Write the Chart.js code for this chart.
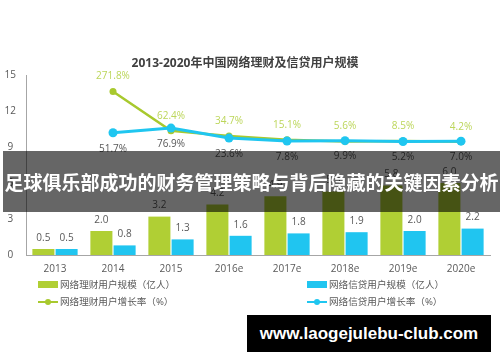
<!DOCTYPE html>
<html>
<head>
<meta charset="utf-8">
<script src="https://cdn.jsdelivr.net/npm/chart.js@4/dist/chart.umd.min.js"></script>
<style>
  html, body { margin:0; padding:0; background:#fff; }
  #wrap { position:relative; width:500px; height:362px; overflow:hidden; }
  #c { position:absolute; left:0; top:0; }
  .lg { position:absolute; font-family:'Open Sans','Noto Sans CJK SC',sans-serif; font-size:9.6px; color:#595959; line-height:12px; white-space:nowrap; }
  .sw { position:absolute; }
  #banner { position:absolute; left:3px; top:151px; width:497px; height:61px; background:rgba(0,0,0,0.6);
            color:#fff; font-family:'Noto Sans CJK SC',sans-serif; font-weight:bold; font-size:19px;
            line-height:61px; text-align:center; white-space:nowrap; letter-spacing:0px; }
  #mark { position:absolute; left:247px; top:315px; width:244px; height:37px; background:#000; color:#fff;
          font-family:'Liberation Sans',Arial,sans-serif; font-weight:bold; font-size:17px; line-height:37px; text-align:center; }
</style>
</head>
<body>
<div id="wrap">
  <canvas id="c" width="500" height="362"></canvas>
  <div id="legend"></div>
  <div id="banner">足球俱乐部成功的财务管理策略与背后隐藏的关键因素分析</div>
  <div id="mark">www.laogejulebu-club.com</div>
</div>
<script>
const titleText = '2013-2020年中国网络理财及信贷用户规模';
const categories = ['2013', '2014', '2015', '2016e', '2017e', '2018e', '2019e', '2020e'];
const wealthUsers = [0.5, 2.0, 3.2, 4.2, 4.9, 5.3, 5.8, 6.0];
const creditUsers = [0.5, 0.8, 1.3, 1.6, 1.8, 1.9, 2.0, 2.2];
const wealthGrowth = [null, 271.8, 62.4, 34.7, 15.1, 5.6, 8.5, 4.2];
const creditGrowth = [null, 51.7, 76.9, 23.6, 7.8, 9.9, 5.2, 7.0];
const seriesNames = ['网络理财用户规模（亿人）', '网络信贷用户规模（亿人）', '网络理财用户增长率（%）', '网络信贷用户增长率（%）'];
const yTickMin = 0, yTickMax = 15, yTickStep = 3;

const GREEN_BAR = '#b0cf34', BLUE_BAR = '#20c5f0';
const GREEN_LINE = '#a8c92e', BLUE_LINE = '#1fc6f0';
const FONT = "'Open Sans','Noto Sans CJK SC',sans-serif";

Chart.defaults.font.family = FONT;
Chart.defaults.color = '#595959';

const labelPlugin = {
  id: 'valueLabels',
  afterDatasetsDraw(chart) {
    const ctx = chart.ctx;
    ctx.save();
    ctx.textAlign = 'center';
    ctx.textBaseline = 'middle';
    ctx.font = '10px ' + FONT;
    chart.data.datasets.forEach((ds, di) => {
      const meta = chart.getDatasetMeta(di);
      meta.data.forEach((el, i) => {
        const v = ds.data[i];
        if (v === null || v === undefined) return;
        if (ds.type === 'line') {
          if (ds.labelPos === 'above') {
            ctx.fillStyle = '#bcd65a';
            ctx.fillText(v.toFixed(1) + '%', el.x, el.y - 15);
          } else {
            ctx.fillStyle = '#595959';
            ctx.fillText(v.toFixed(1) + '%', el.x, el.y + 16);
          }
        } else {
          ctx.fillStyle = '#595959';
          ctx.fillText(v.toFixed(1), el.x, el.y - 11);
        }
      });
    });
    ctx.restore();
  }
};

const chart = new Chart(document.getElementById('c'), {
  data: {
    labels: categories,
    datasets: [
      { type: 'bar', label: seriesNames[0], data: wealthUsers, backgroundColor: GREEN_BAR, yAxisID: 'y', order: 2,
        categoryPercentage: 0.8, barPercentage: 0.95 },
      { type: 'bar', label: seriesNames[1], data: creditUsers, backgroundColor: BLUE_BAR, yAxisID: 'y', order: 2,
        categoryPercentage: 0.8, barPercentage: 0.95 },
      { type: 'line', label: seriesNames[2], data: wealthGrowth, borderColor: GREEN_LINE, backgroundColor: GREEN_LINE,
        borderWidth: 2.5, pointRadius: 3.5, pointBackgroundColor: GREEN_LINE, pointBorderWidth: 0, yAxisID: 'y2', order: 1, labelPos: 'above', tension: 0 },
      { type: 'line', label: seriesNames[3], data: creditGrowth, borderColor: BLUE_LINE, backgroundColor: BLUE_LINE,
        borderWidth: 3, pointRadius: 4.5, pointBackgroundColor: BLUE_LINE, pointBorderWidth: 0, yAxisID: 'y2', order: 0, labelPos: 'below', tension: 0 }
    ]
  },
  options: {
    responsive: false,
    animation: false,
    layout: { padding: { top: 56, left: 0, right: 10, bottom: 80 } },
    plugins: {
      legend: { display: false },
      tooltip: { enabled: false },
      title: { display: true, text: titleText, color: '#404040', font: { size: 12, weight: 'bold', family: FONT },
               padding: { top: 0, bottom: 4.6 } }
    },
    scales: {
      x: {
        grid: { display: false, drawTicks: false },
        border: { display: true, color: '#a6a6a6', width: 1 },
        ticks: { color: '#595959', font: { size: 10 }, padding: 8, maxRotation: 0, autoSkip: false },
        afterFit(s) { s.height = 27; }
      },
      y: {
        position: 'left', min: yTickMin, max: yTickMax,
        grid: { display: false, drawTicks: false },
        border: { display: true, color: '#a6a6a6', width: 1 },
        ticks: { stepSize: yTickStep, color: '#595959', font: { size: 10 }, padding: 10, crossAlign: 'center' },
        afterFit(s) { s.width = 26; }
      },
      y2: { display: false, min: -600, max: 360 }
    }
  },
  plugins: [labelPlugin]
});

// legend built from the dataset definitions
const legend = document.getElementById('legend');
const legendSlots = [
  { x: 38, y: 285 }, { x: 307, y: 285 }, { x: 38, y: 302 }, { x: 307, y: 302 }
];
chart.data.datasets.forEach((ds, i) => {
  const slot = legendSlots[i];
  const color = ds.type === 'bar' ? ds.backgroundColor : ds.borderColor;
  if (ds.type === 'bar') {
    const r = document.createElement('div');
    r.className = 'sw';
    r.style.cssText = `left:${slot.x}px;top:${slot.y - 4}px;width:20px;height:7px;background:${color};`;
    legend.appendChild(r);
  } else {
    const l = document.createElement('div');
    l.className = 'sw';
    l.style.cssText = `left:${slot.x}px;top:${slot.y - 1}px;width:20px;height:2px;background:${color};`;
    legend.appendChild(l);
    const d = document.createElement('div');
    d.className = 'sw';
    d.style.cssText = `left:${slot.x + 7}px;top:${slot.y - 3}px;width:6px;height:6px;border-radius:3px;background:${color};`;
    legend.appendChild(d);
  }
  const t = document.createElement('div');
  t.className = 'lg';
  t.style.left = (slot.x + 22) + 'px';
  t.style.top = (slot.y - 6.5) + 'px';
  t.textContent = ds.label;
  legend.appendChild(t);
});
</script>
</body>
</html>
